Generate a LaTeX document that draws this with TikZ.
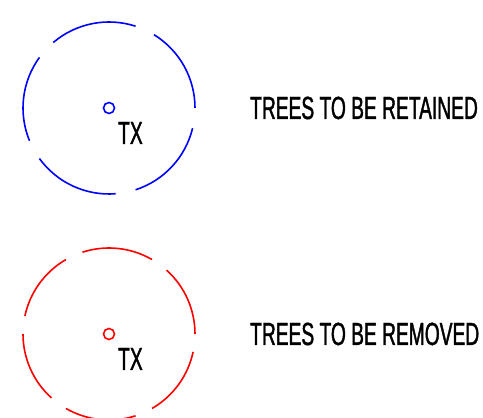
\documentclass[tikz,border=0pt]{standalone}
\usepackage{fontspec}
\setmainfont{Liberation Sans}[FakeStretch=0.6,FakeBold=1.2]
\begin{document}
\begin{tikzpicture}[x=1pt,y=1pt,
  legendtext/.style={anchor=base west,inner sep=0pt,font=\fontsize{32}{32}\selectfont,text=black},
  ring/.style={line width=1.6pt},
  dot/.style={circle,draw,line width=1.6pt,minimum size=11pt,inner sep=0pt}]
\useasboundingbox (0,0) rectangle (483,418);
% retained (blue)
\node[dot,draw=blue] (cb) at (109,310) {};
\foreach \a in {0,72,144,216,288}
  \draw[ring,blue] (cb.center) ++(\a:86) arc[start angle=\a, delta angle=58.4, radius=86];
\node[legendtext] (txb) at (118,274) {TX};
\node[legendtext] (lb) at (250,299) {TREES TO BE RETAINED};
% removed (red)
\node[dot,draw=red] (cr) at (109,84) {};
\foreach \a in {0,60,120,180,240,300}
  \draw[ring,red] (cr.center) ++(\a:86) arc[start angle=\a, delta angle=48, radius=86];
\node[legendtext] (txr) at (118,48) {TX};
\node[legendtext] (lr) at (250,73) {TREES TO BE REMOVED};
\end{tikzpicture}
\end{document}
